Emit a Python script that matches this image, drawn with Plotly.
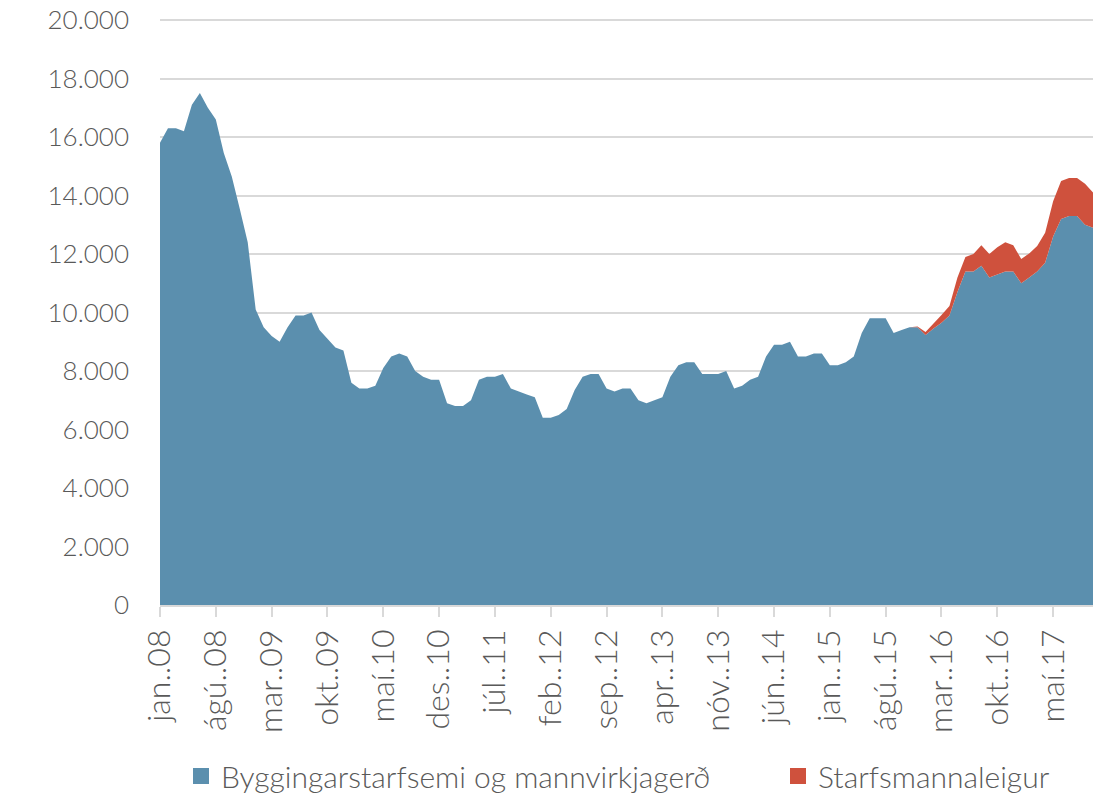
import plotly.graph_objects as go

months_is = ["jan", "feb", "mar", "apr", "maí", "jún", "júl", "ágú", "sep", "okt", "nóv", "des"]

bygg = [15800, 16300, 16300, 16200, 17100, 17500, 17000, 16600, 15450, 14650,
        13550, 12400, 10100, 9500, 9200, 9000, 9500, 9900, 9900, 10000,
        9400, 9100, 8800, 8700, 7600, 7400, 7400, 7500, 8100, 8500,
        8600, 8500, 8000, 7800, 7700, 7700, 6900, 6800, 6800, 7000,
        7700, 7800, 7800, 7900, 7400, 7300, 7200, 7100, 6400, 6400,
        6500, 6700, 7350, 7800, 7900, 7900, 7400, 7300, 7400, 7400,
        7000, 6900, 7000, 7100, 7800, 8200, 8300, 8300, 7900, 7900,
        7900, 8000, 7400, 7500, 7700, 7800, 8500, 8900, 8900, 9000,
        8500, 8500, 8600, 8600, 8200, 8200, 8300, 8500, 9300, 9800,
        9800, 9800, 9300, 9400, 9500, 9500, 9230, 9450, 9650, 9900,
        10700, 11400, 11400, 11600, 11200, 11300, 11400, 11400, 11000, 11200,
        11400, 11700, 12600, 13200, 13300, 13300, 13000, 12900]

leiga = [0] * 95 + [20, 100, 170, 265, 320, 500, 500, 600, 700, 800,
                    930, 1000, 900, 830, 820, 870, 1030, 1200, 1300, 1300,
                    1300, 1400, 1200]

n = len(bygg)
labels = []
for i in range(n):
    m = i % 12
    y = 8 + i // 12
    sep = "." if months_is[m] == "maí" else ".."
    labels.append(f"{months_is[m]}{sep}{y:02d}")

x = list(range(n))
tick_idx = list(range(0, n, 7))

blue = "#5b8fae"
red = "#cf513d"
font_fam = "Lato, 'Open Sans', sans-serif"
txt = "#595959"

W, H = 1107, 796
T, B = 17, 191
px_per_unit = 0.02925
y_top = (H - T - B) / px_per_unit

fig = go.Figure()
fig.add_trace(go.Scatter(x=x, y=bygg, stackgroup="one", mode="none",
                         fillcolor=blue, name="Byggingarstarfsemi og mannvirkjagerð",
                         showlegend=False))
fig.add_trace(go.Scatter(x=x, y=leiga, stackgroup="one", mode="none",
                         fillcolor=red, name="Starfsmannaleigur", showlegend=False))
# legend entries
fig.add_trace(go.Scatter(x=[None], y=[None], mode="markers",
                         marker=dict(symbol="square", size=17, color=blue),
                         name="Byggingarstarfsemi og mannvirkjagerð", legend="legend"))
fig.add_trace(go.Scatter(x=[None], y=[None], mode="markers",
                         marker=dict(symbol="square", size=17, color=red),
                         name="Starfsmannaleigur", legend="legend2"))

leg_common = dict(orientation="h", xref="container", yref="container",
                  xanchor="left", y=(H - 776) / H, yanchor="middle",
                  font=dict(size=30, color=txt, family=font_fam, weight=300),
                  itemwidth=30, bgcolor="rgba(0,0,0,0)")

fig.update_layout(
    width=W, height=H,
    margin=dict(l=160, r=14, t=T, b=B, autoexpand=False),
    paper_bgcolor="white", plot_bgcolor="white",
    separators=",.",
    font=dict(family=font_fam, size=26, color=txt, weight=300),
    showlegend=True,
    legend=dict(x=181 / W, **leg_common),
    legend2=dict(x=778 / W, **leg_common),
    xaxis=dict(range=[0, n - 1], tickmode="array", tickvals=tick_idx,
               ticktext=[labels[i] for i in tick_idx], tickangle=-90,
               showgrid=False, zeroline=False, showline=True, linecolor="#d9d9d9",
               linewidth=1.5, ticks="outside", ticklen=10, tickcolor="#d9d9d9",
               tickwidth=1.5, automargin=False,
               tickfont=dict(size=32, color=txt, family=font_fam, weight=300)),
    yaxis=dict(range=[0, y_top], tickmode="linear", tick0=0, dtick=2000,
               tickformat=",d", showgrid=True, gridcolor="#d9d9d9", gridwidth=1.5,
               zeroline=False, showline=False, ticks="", ticklabelstandoff=30,
               ticklabeloverflow="allow", automargin=False,
               tickfont=dict(size=26, color=txt, family=font_fam, weight=300)),
)

fig.write_html("out.html", config={"displayModeBar": False},
               post_script="document.body.style.margin='0';document.body.style.overflow='hidden';")
